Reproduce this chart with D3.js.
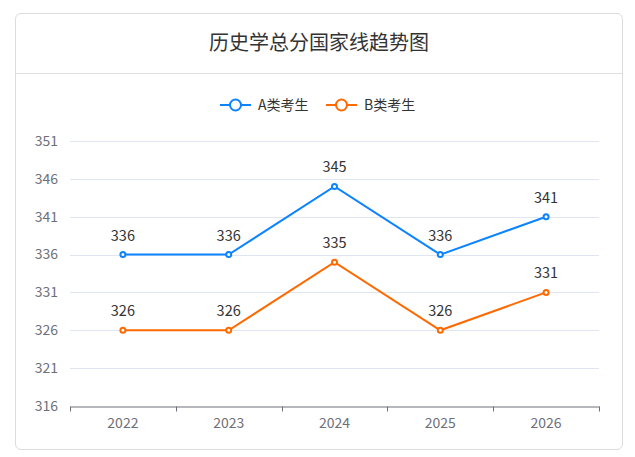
<!DOCTYPE html>
<html>
<head>
<meta charset="utf-8">
<script src="https://d3js.org/d3.v7.min.js"></script>
<style>
  body { margin: 0; background: #fff; font-family: "Noto Sans CJK SC", "Microsoft YaHei", sans-serif; }
  .card {
    position: absolute; left: 15px; top: 13px; width: 608px; height: 437px;
    border: 1px solid #dcdcdc; border-radius: 6px; box-sizing: border-box;
  }
  .axis text { font-family: "Noto Sans CJK SC", sans-serif; }
</style>
</head>
<body>
<div class="card"></div>
<svg id="chart" width="635" height="457" style="position:absolute;left:0;top:0"></svg>
<script>
const years = ["2022", "2023", "2024", "2025", "2026"];
const seriesA = [336, 336, 345, 336, 341];
const seriesB = [326, 326, 335, 326, 331];
const yTicks = [316, 321, 326, 331, 336, 341, 346, 351];
const seriesNames = ["A类考生", "B类考生"];
const colors = ["#0d84ff", "#ff6a00"];
const title = "历史学总分国家线趋势图";

const svg = d3.select("#chart");
const margin = { left: 70, right: 36, top: 141, bottom: 51 };
const width = 635 - margin.left - margin.right;
const height = 457 - margin.top - margin.bottom;

// title + header divider
svg.append("text")
  .attr("x", 319).attr("y", 50)
  .attr("text-anchor", "middle")
  .style("font-size", "20px")
  .style("fill", "#333")
  .text(title);
svg.append("line")
  .attr("x1", 16).attr("x2", 622)
  .attr("y1", 73.5).attr("y2", 73.5)
  .attr("stroke", "#e0e0e0");

const g = svg.append("g").attr("transform", `translate(${margin.left},${margin.top})`);

const x = d3.scaleBand().domain(years).range([0, width]);
const y = d3.scaleLinear().domain([316, 351]).range([height, 0]);

// grid
g.append("g")
  .selectAll("line")
  .data(yTicks.slice(1))
  .enter().append("line")
  .attr("x1", 0).attr("x2", width)
  .attr("y1", d => Math.round(y(d)) + 0.5).attr("y2", d => Math.round(y(d)) + 0.5)
  .attr("stroke", "#e0e6f1");

// y labels
g.append("g")
  .selectAll("text")
  .data(yTicks)
  .enter().append("text")
  .attr("x", -12)
  .attr("y", d => y(d))
  .attr("dy", "0.35em")
  .attr("text-anchor", "end")
  .style("font-size", "14px")
  .style("fill", "#6e7079")
  .text(d => d);

// x axis
const xAxis = g.append("g")
  .attr("class", "axis")
  .attr("transform", `translate(0,${height + 0.5})`)
  .call(d3.axisBottom(x).tickSize(0).tickPadding(12));
xAxis.select(".domain").attr("stroke", "#6e7079");
xAxis.selectAll("text").style("font-size", "14px").style("fill", "#6e7079");
xAxis.append("g")
  .selectAll("line")
  .data(d3.range(years.length + 1))
  .enter().append("line")
  .attr("x1", i => Math.round(i * x.step()) + 0.5)
  .attr("x2", i => Math.round(i * x.step()) + 0.5)
  .attr("y1", 0).attr("y2", 5)
  .attr("stroke", "#6e7079");

// lines
const line = d3.line()
  .x((d, i) => x(years[i]) + x.bandwidth() / 2)
  .y(d => y(d));

[seriesA, seriesB].forEach((s, k) => {
  g.append("path")
    .datum(s)
    .attr("fill", "none")
    .attr("stroke", colors[k])
    .attr("stroke-width", 2)
    .attr("d", line);
  g.selectAll(null)
    .data(s)
    .enter().append("circle")
    .attr("cx", (d, i) => x(years[i]) + x.bandwidth() / 2)
    .attr("cy", d => y(d))
    .attr("r", 2.5)
    .attr("fill", "#fff")
    .attr("stroke", colors[k])
    .attr("stroke-width", 2);
  g.selectAll(null)
    .data(s)
    .enter().append("text")
    .attr("x", (d, i) => x(years[i]) + x.bandwidth() / 2)
    .attr("y", d => y(d) - 14)
    .attr("text-anchor", "middle")
    .style("font-size", "14.5px")
    .style("fill", "#333")
    .text(d => d);
});

// legend
const legendX = [220, 326];
seriesNames.forEach((name, k) => {
  const lg = svg.append("g").attr("transform", `translate(${legendX[k]},105)`);
  lg.append("line")
    .attr("x1", 0).attr("x2", 31)
    .attr("stroke", colors[k]).attr("stroke-width", 2);
  lg.append("circle")
    .attr("cx", 15.5).attr("r", 5.5)
    .attr("fill", "#fff")
    .attr("stroke", colors[k]).attr("stroke-width", 2);
  lg.append("text")
    .attr("x", 38).attr("dy", "0.35em")
    .style("font-size", "14px")
    .style("fill", "#333")
    .text(name);
});
</script>
</body>
</html>
